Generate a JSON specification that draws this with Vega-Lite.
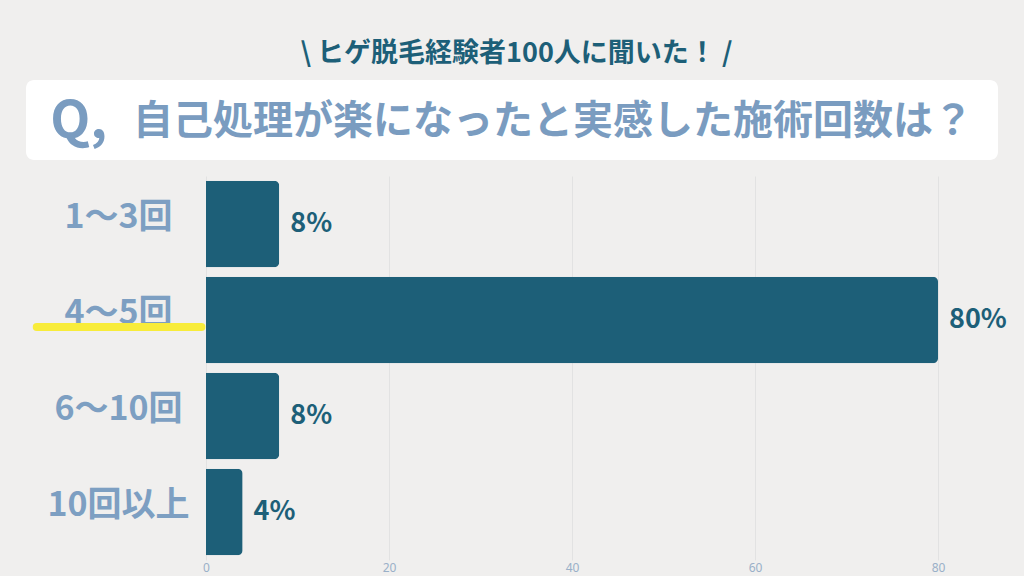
{
  "$schema": "https://vega.github.io/schema/vega-lite/v6.json",
  "background": "#f0efee",
  "padding": {"left": 26, "top": 40, "right": 19, "bottom": 4},
  "title": {
    "text": "\\  ヒゲ脱毛経験者100人に聞いた！ /",
    "font": "Noto Sans CJK JP",
    "fontSize": 27,
    "fontWeight": "bold",
    "color": "#1d5f78",
    "anchor": "middle",
    "offset": 12
  },
  "spacing": 16,
  "vconcat": [
    {
      "width": 732,
      "height": 80,
      "data": {"values": [{"q": "Q,", "question": "自己処理が楽になったと実感した施術回数は？"}]},
      "layer": [
        {
          "mark": {"type": "rect", "fill": "white", "cornerRadius": 8},
          "encoding": {
            "x": {"datum": 0, "type": "quantitative", "scale": {"domain": [0, 1], "range": [-180, 792]}, "axis": null},
            "x2": {"datum": 1},
            "y": {"datum": 0, "type": "quantitative", "scale": {"domain": [0, 1]}, "axis": null},
            "y2": {"datum": 1}
          }
        },
        {
          "mark": {"type": "text", "align": "left", "baseline": "middle", "font": "Noto Sans CJK JP", "fontWeight": "bold", "fontSize": 52, "color": "#7a9cc0", "dy": 2},
          "encoding": {
            "x": {"datum": 0.025, "type": "quantitative"},
            "y": {"datum": 0.5, "type": "quantitative"},
            "text": {"field": "q"}
          }
        },
        {
          "mark": {"type": "text", "align": "left", "baseline": "middle", "font": "Noto Sans CJK JP", "fontWeight": "bold", "fontSize": 40, "color": "#7a9cc0", "dy": 2},
          "encoding": {
            "x": {"datum": 0.11, "type": "quantitative"},
            "y": {"datum": 0.5, "type": "quantitative"},
            "text": {"field": "question"}
          }
        }
      ]
    },
    {
      "width": 732,
      "height": 384,
      "data": {
        "values": [
          {"count": "1〜3回", "pct": 8},
          {"count": "4〜5回", "pct": 80},
          {"count": "6〜10回", "pct": 8},
          {"count": "10回以上", "pct": 4}
        ]
      },
      "encoding": {
        "y": {
          "field": "count",
          "type": "nominal",
          "sort": null,
          "scale": {"paddingInner": 0.1, "paddingOuter": 0.05},
          "axis": {
            "title": null,
            "domain": false,
            "ticks": false,
            "tickSize": 0,
            "labelAlign": "center",
            "labelPadding": 88,
            "labelOffset": -6,
            "labelFont": "Noto Sans CJK JP",
            "labelFontSize": 34,
            "labelFontWeight": "bold",
            "labelColor": "#7d9fc2",
            "labelLimit": 0
          }
        }
      },
      "layer": [
        {
          "mark": {"type": "bar", "color": "#1d5f78", "cornerRadiusEnd": 5},
          "encoding": {
            "x": {
              "field": "pct",
              "type": "quantitative",
              "scale": {"domain": [0, 80], "nice": false},
              "axis": {
                "title": null,
                "values": [0, 20, 40, 60, 80],
                "domain": false,
                "ticks": false,
                "grid": true,
                "gridColor": "#e2e2e2",
                "labelPadding": 2,
                "labelFont": "Noto Sans",
                "labelFontSize": 12,
                "labelColor": "#9ab0c8",
                "labelFlush": false
              }
            }
          }
        },
        {
          "data": {"values": [{}]},
          "mark": {"type": "rule", "color": "#f8ec3a", "strokeWidth": 8, "strokeCap": "round", "yOffset": 7},
          "encoding": {
            "y": {"datum": "4〜5回", "type": "nominal"},
            "x": {"datum": -18.5, "type": "quantitative"},
            "x2": {"datum": -0.5}
          }
        },
        {
          "transform": [{"calculate": "datum.pct + '%'", "as": "label"}],
          "mark": {"type": "text", "align": "left", "baseline": "middle", "dx": 11, "font": "Noto Sans CJK JP", "fontWeight": "bold", "fontSize": 27, "color": "#1d5f78"},
          "encoding": {
            "x": {"field": "pct", "type": "quantitative"},
            "text": {"field": "label"}
          }
        }
      ]
    }
  ],
  "config": {
    "view": {"stroke": null}
  }
}
